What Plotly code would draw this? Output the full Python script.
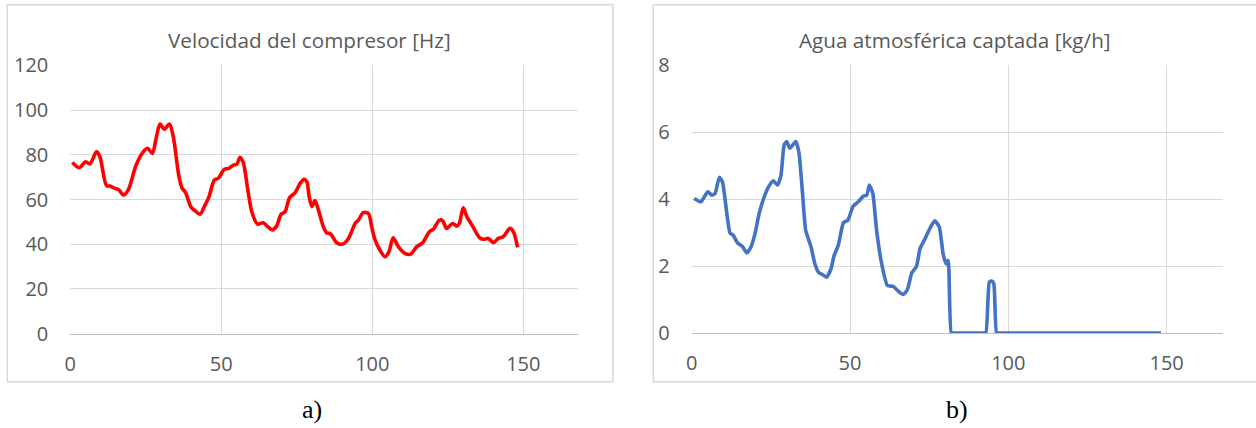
import plotly.graph_objects as go

W, H = 1256, 428

# Panel a) - compressor speed [Hz]
speed_x = [0.7, 2.9, 5.1, 6.5, 8.7, 9.8, 12.0, 13.1, 14.8, 16.1, 17.6, 19.2, 21.8, 24.2, 25.6, 27.2,
           28.3, 29.7, 31.1, 32.8, 34.1, 35.8, 36.9, 38.2, 40.0, 41.3, 42.9, 44.6, 45.9, 47.7, 49.0,
           51.0, 52.5, 54.0, 55.1, 56.2, 57.3, 58.7, 60.1, 62.0, 63.9, 65.4, 66.9, 68.3, 69.8, 71.1,
           72.6, 74.4, 76.1, 77.4, 78.3, 79.1, 80.0, 81.0, 82.1, 83.8, 84.9, 86.2, 88.2, 90.2, 92.1,
           94.3, 95.4, 97.0, 98.7, 99.8, 100.9, 102.5, 104.2, 105.5, 106.9, 108.6, 110.8, 112.7,
           114.7, 116.7, 118.9, 120.2, 122.2, 123.3, 124.6, 126.6, 127.9, 128.8, 130.1, 131.3,
           133.2, 135.4, 136.8, 138.4, 140.1, 141.7, 143.4, 145.6, 146.7, 148.1]
speed_y = [76.6, 74.2, 76.9, 75.9, 81.4, 79.1, 66.2, 66.0, 65.0, 64.3, 62.0, 64.3, 75.4, 81.4, 82.9, 80.6,
           86.6, 93.7, 91.4, 93.7, 88.1, 71.7, 65.4, 63.0, 56.5, 55.0, 53.4, 57.5, 61.2, 68.7, 69.5,
           73.5, 73.9, 75.4, 75.7, 78.9, 76.4, 65.0, 54.5, 49.0, 49.6, 47.8, 46.4, 48.1, 53.4, 54.5,
           60.8, 63.0, 67.2, 69.0, 68.0, 61.2, 56.8, 59.5, 55.6, 47.8, 45.1, 44.6, 40.7, 40.1, 42.6,
           49.3, 50.8, 54.1, 53.8, 47.8, 41.9, 37.4, 34.4, 36.7, 42.9, 38.9, 35.9, 35.6,
           38.9, 40.7, 45.6, 46.7, 50.8, 50.5, 47.1, 49.3, 48.1, 49.3, 56.3, 52.3,
           48.1, 43.1, 42.2, 42.6, 40.7, 42.6, 43.4, 47.1, 45.6, 38.6]

# Panel b) - atmospheric water captured [kg/h]
water_x = [0.8, 2.9, 5.05, 6.3, 7.4, 8.7, 9.7, 11.1, 12.1, 13.1, 14.5, 16.0, 17.4, 18.7, 20.0, 21.3,
           22.9, 24.4, 25.8, 27.1, 28.2, 29.2, 30.0, 31.0, 32.9, 33.9, 35.0, 36.0, 37.7, 38.9, 40.0,
           41.2, 42.6, 44.0, 45.0, 46.3, 47.9, 49.3, 51.0, 52.6, 54.2, 55.3, 56.1, 57.2, 58.4, 60.0,
           61.8, 63.7, 65.2, 66.8, 68.1, 69.5, 71.0, 72.1, 73.7, 75.2, 76.8, 78.2, 79.4, 80.3, 81.0,
           82.0, 82.8, 92.1, 92.9, 94.0, 94.7, 95.4, 96.3, 97.1, 147.4, 148.2]
water_y = [4.02, 3.92, 4.22, 4.12, 4.17, 4.65, 4.52, 3.57, 2.99, 2.92, 2.69, 2.59, 2.39, 2.57, 2.97, 3.57,
           4.07, 4.39, 4.55, 4.42, 4.72, 5.62, 5.72, 5.52, 5.72, 5.37, 4.17, 3.07, 2.57, 2.07, 1.82,
           1.75, 1.67, 1.92, 2.32, 2.62, 3.29, 3.37, 3.79, 3.92, 4.09, 4.12, 4.42, 4.17, 3.07, 2.07,
           1.42, 1.39, 1.25, 1.15, 1.29, 1.79, 1.99, 2.52, 2.82, 3.12, 3.35, 3.17, 2.37, 2.07, 2.17,
           0.0, 0.0, 0.0, 0.0, 1.52, 1.55, 1.48, 0.0, 0.0, 0.0, 0.0]

titles = ["Velocidad del compresor [Hz]", "Agua atmosférica captada [kg/h]"]
captions = ["a)", "b)"]
x_ticks = [0, 50, 100, 150]

def px(x):
    return x / W

def py(y):
    return 1 - y / H

TICK_FONT = dict(family="Open Sans", size=20, color="#595959")
GRID = "#D9D9D9"

fig = go.Figure()
fig.add_trace(go.Scatter(x=speed_x, y=speed_y, mode="lines", xaxis="x", yaxis="y",
                         line=dict(color="#FF0000", width=3.6, shape="spline", smoothing=0.8),
                         showlegend=False, hoverinfo="skip", cliponaxis=False))
fig.add_trace(go.Scatter(x=water_x, y=water_y, mode="lines", xaxis="x2", yaxis="y2",
                         line=dict(color="#4472C4", width=3.6, shape="spline", smoothing=0.5),
                         showlegend=False, hoverinfo="skip", cliponaxis=False))

xcommon = dict(tickvals=x_ticks, showgrid=True, gridcolor=GRID, gridwidth=1.3, showline=True,
               linecolor="#BFBFBF", linewidth=1.3, zeroline=False, ticks="", tickfont=TICK_FONT,
               ticklabelstandoff=12, fixedrange=True, automargin=False)
ycommon = dict(showgrid=True, gridcolor=GRID, gridwidth=1.3, showline=False, zeroline=False,
               ticks="", tickfont=TICK_FONT, ticklabelstandoff=21, fixedrange=True, automargin=False)

fig.update_layout(
    template="none",
    width=W, height=H, margin=dict(l=0, r=0, t=0, b=0, pad=0, autoexpand=False),
    paper_bgcolor="white", plot_bgcolor="white", showlegend=False,
    xaxis=dict(domain=[px(70.3), px(578)], range=[0, 168.1], anchor="y", **xcommon),
    yaxis=dict(domain=[py(333.7), py(65.3)], range=[0, 120], dtick=20, anchor="x", **ycommon),
    xaxis2=dict(domain=[px(691.7), px(1223.3)], range=[0, 167.9], anchor="y2", **xcommon),
    yaxis2=dict(domain=[py(333.0), py(65.3)], range=[0, 8], dtick=2, anchor="x2", **ycommon),
)

# panel borders
for (x0, x1) in [(7.3, 613), (653.3, 1260)]:
    fig.add_shape(type="rect", xref="paper", yref="paper", x0=px(x0), x1=px(x1),
                  y0=py(381.7), y1=py(4.7), line=dict(color="#D9D9D9", width=1.5),
                  fillcolor="rgba(0,0,0,0)", layer="below")

# titles
for cx, t in zip([309, 955], titles):
    fig.add_annotation(x=px(cx), y=py(40), xref="paper", yref="paper", text=t, showarrow=False,
                       xanchor="center", yanchor="middle",
                       font=dict(family="Open Sans", size=20.7, color="#595959"))

# captions
for cx, c in zip([312, 957], captions):
    fig.add_annotation(x=px(cx), y=py(409), xref="paper", yref="paper", text=c, showarrow=False,
                       xanchor="center", yanchor="middle",
                       font=dict(family="Liberation Serif", size=26, color="#000000"))

fig.write_html("out.html", config={"displayModeBar": False},
               post_script="document.body.style.margin='0';document.body.style.overflow='hidden';")
